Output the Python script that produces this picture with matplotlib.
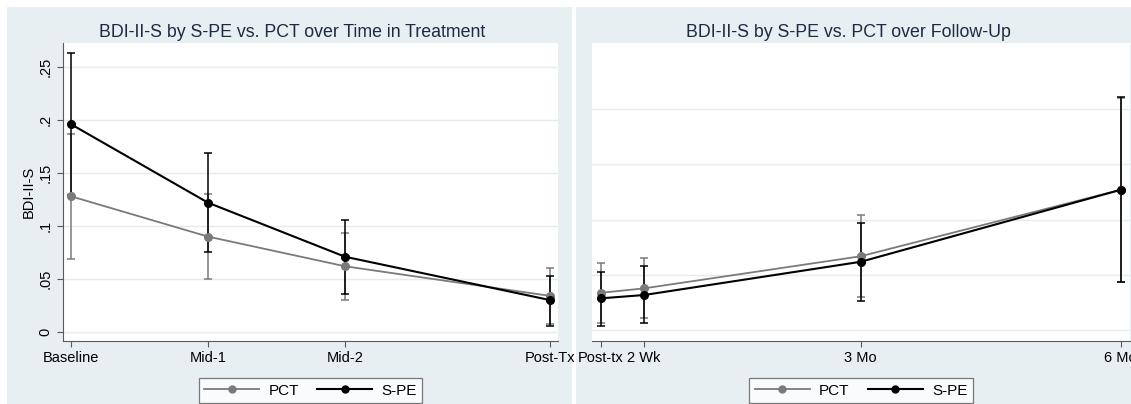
# plot.py
# BDI-II-S by S-PE vs. PCT: treatment phase and follow-up, Stata-like look
import matplotlib
matplotlib.use('Agg')
import numpy as np
import matplotlib.pyplot as plt
from matplotlib.patches import Rectangle
from matplotlib.lines import Line2D

plt.rcParams['font.family'] = ['Liberation Sans', 'DejaVu Sans']

# ---- data: treatment phase ----
tx_labels = ['Baseline', 'Mid-1', 'Mid-2', 'Post-Tx']
tx_x = [0, 1, 2, 3.5]
tx_pct = [0.128, 0.090, 0.062, 0.034]
tx_pct_lo = [0.069, 0.050, 0.030, 0.008]
tx_pct_hi = [0.187, 0.130, 0.093, 0.060]
tx_spe = [0.196, 0.122, 0.071, 0.030]
tx_spe_lo = [0.129, 0.075, 0.036, 0.006]
tx_spe_hi = [0.263, 0.169, 0.106, 0.053]

# ---- data: follow-up ----
fu_labels = ['Post-tx', '2 Wk', '3 Mo', '6 Mo']
fu_x = [0, 0.5, 3, 6]
fu_pct = [0.034, 0.038, 0.067, 0.127]
fu_pct_lo = [0.007, 0.011, 0.030, 0.044]
fu_pct_hi = [0.061, 0.065, 0.104, 0.210]
fu_spe = [0.029, 0.032, 0.062, 0.127]
fu_spe_lo = [0.004, 0.007, 0.027, 0.044]
fu_spe_hi = [0.053, 0.058, 0.097, 0.211]

W, H = 1131, 404
panel_bg = '#e7eff2'
grid_c = '#e3ebee'
axis_c = '#5a5a5a'
c_pct = '#7a7a7a'
c_spe = '#000000'

fig = plt.figure(figsize=(W / 100, H / 100), dpi=100)
fig.patch.set_facecolor('white')

# panel backgrounds (pixel boxes converted to figure fractions)
fig.patches.append(Rectangle((7 / W, 0), 565 / W, 397 / H, transform=fig.transFigure,
                             facecolor=panel_bg, edgecolor='none', zorder=-5))
fig.patches.append(Rectangle((576 / W, 0), 560 / W, 397 / H, transform=fig.transFigure,
                             facecolor=panel_bg, edgecolor='none', zorder=-5))

ax1 = fig.add_axes([63 / W, 63 / H, 495 / W, 298 / H])
ax2 = fig.add_axes([592 / W, 63 / H, 538 / W, 298 / H])


def draw_series(ax, x, m, lo, hi, color, lw, label):
    m = np.array(m)
    yerr = [m - np.array(lo), np.array(hi) - m]
    ax.errorbar(x, m, yerr=yerr, color=color, lw=lw, elinewidth=1.1,
                capsize=3, capthick=1.1, marker='o', ms=5.5, label=label, zorder=3)


for ax in (ax1, ax2):
    ax.set_facecolor('white')
    for s in ('top', 'right'):
        ax.spines[s].set_visible(False)
    ax.spines['bottom'].set_color(axis_c)
    ax.spines['left'].set_color(axis_c)
    ax.tick_params(axis='x', colors=axis_c, labelcolor='black', length=4,
                   labelsize=10.5, pad=3)

# left panel
draw_series(ax1, tx_x, tx_pct, tx_pct_lo, tx_pct_hi, c_pct, 1.3, 'PCT')
draw_series(ax1, tx_x, tx_spe, tx_spe_lo, tx_spe_hi, c_spe, 1.5, 'S-PE')
ax1.set_xlim(-0.058, 3.555)
ax1.set_ylim(-0.0085, 0.2726)
yt = [0, 0.05, 0.1, 0.15, 0.2, 0.25]
ax1.set_yticks(yt)
ax1.set_yticklabels(['0', '.05', '.1', '.15', '.2', '.25'], rotation=90, va='center')
ax1.tick_params(axis='y', colors=axis_c, labelcolor='black', length=4, labelsize=10.5)
for v in yt:
    ax1.axhline(v, color=grid_c, lw=1.0, zorder=1)
ax1.set_xticks(tx_x)
ax1.set_xticklabels(tx_labels)
ax1.set_ylabel('BDI-II-S', fontsize=10.5, labelpad=2)
ax1.set_title('BDI-II-S by S-PE vs. PCT over Time in Treatment', fontsize=12.8,
              color='#1e2a44', pad=4, x=(292 - 63) / 495)

# right panel
draw_series(ax2, fu_x, fu_pct, fu_pct_lo, fu_pct_hi, c_pct, 1.3, 'PCT')
draw_series(ax2, fu_x, fu_spe, fu_spe_lo, fu_spe_hi, c_spe, 1.5, 'S-PE')
ax2.set_xlim(-0.1, 6.107)
ax2.set_ylim(-0.0095, 0.2595)
ax2.spines['left'].set_visible(False)
ax2.set_yticks([])
for v in [0, 0.05, 0.1, 0.15, 0.2]:
    ax2.axhline(v, color=grid_c, lw=1.0, zorder=1)
ax2.set_xticks(fu_x)
ax2.set_xticklabels(fu_labels)
ax2.set_title('BDI-II-S by S-PE vs. PCT over Follow-Up', fontsize=12.8,
              color='#1e2a44', pad=4, x=(848 - 592) / 538)

# legends
handles = [Line2D([], [], color=c_pct, lw=1.3, marker='o', ms=5),
           Line2D([], [], color=c_spe, lw=1.5, marker='o', ms=5)]
for ax in (ax1, ax2):
    leg = ax.legend(handles, ['PCT', 'S-PE'], loc='upper center',
                    bbox_to_anchor=(0.5, -0.1), ncol=2, fontsize=11,
                    frameon=True, fancybox=False, edgecolor=axis_c,
                    handlelength=3.6, columnspacing=1.2, borderpad=0.35,
                    handletextpad=0.6)
    leg.get_frame().set_linewidth(0.9)

fig.savefig('out.png', dpi=100, facecolor='white')
